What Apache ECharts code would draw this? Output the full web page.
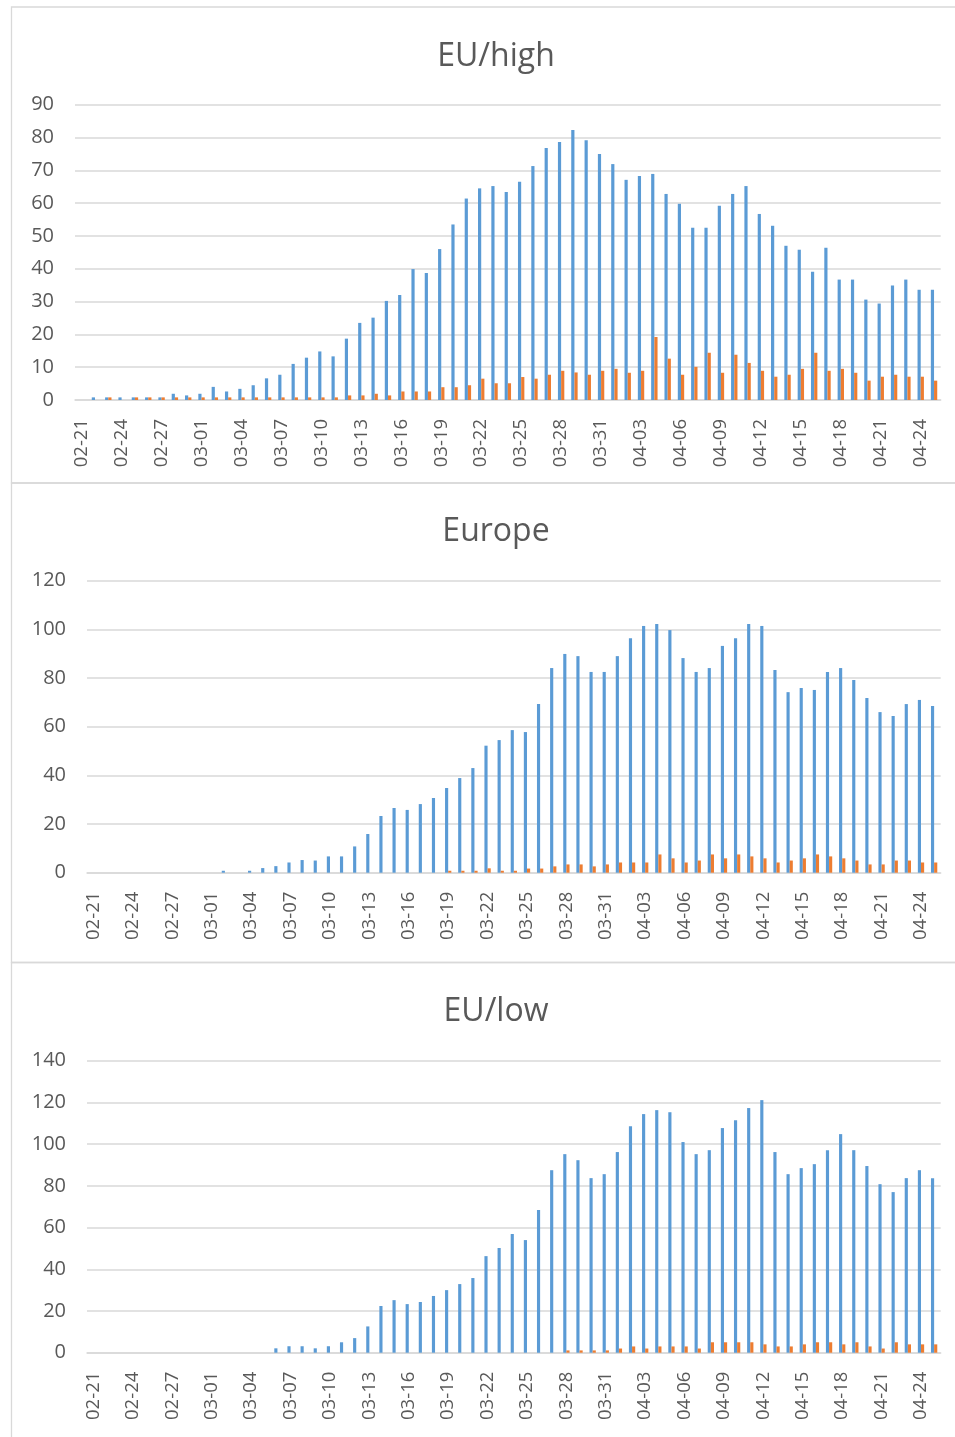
<!DOCTYPE html>
<html>
<head>
<meta charset="utf-8">
<script src="https://cdn.jsdelivr.net/npm/echarts@6/dist/echarts.min.js"></script>
<style>
html,body{margin:0;padding:0;background:#fff;}
#c{width:955px;height:1437px;}
</style>
</head>
<body>
<div id="c"></div>
<script>
const dates = ['02-21','02-22','02-23','02-24','02-25','02-26','02-27','02-28','02-29',
'03-01','03-02','03-03','03-04','03-05','03-06','03-07','03-08','03-09','03-10','03-11','03-12','03-13','03-14','03-15','03-16','03-17','03-18','03-19','03-20','03-21','03-22','03-23','03-24','03-25','03-26','03-27','03-28','03-29','03-30','03-31',
'04-01','04-02','04-03','04-04','04-05','04-06','04-07','04-08','04-09','04-10','04-11','04-12','04-13','04-14','04-15','04-16','04-17','04-18','04-19','04-20','04-21','04-22','04-23','04-24','04-25'];

const titles = ['EU/high', 'Europe', 'EU/low'];

const highBlue = [null,0.8,0.8,0.8,0.8,0.8,0.8,1.9,1.4,
1.9,4,2.6,3.4,4.5,6.6,7.7,11,12.9,14.8,13.3,18.7,23.5,25.1,30.2,32,39.9,38.7,46,53.5,61.4,64.5,65.2,63.4,66.5,71.3,76.8,78.6,82.3,79.2,75,
71.9,67.1,68.3,68.9,62.8,59.8,52.5,52.5,59.2,62.8,65.2,56.7,53.1,47,45.8,39.1,46.4,36.7,36.7,30.6,29.4,34.9,36.7,33.6,33.6];
const highOrange = [null,null,0.8,null,0.8,0.8,0.8,0.8,0.8,
0.8,0.8,0.8,0.8,0.8,0.8,0.8,0.8,0.8,0.8,0.8,1.4,1.4,1.9,1.4,2.6,2.6,2.6,3.9,3.9,4.5,6.5,5.1,5.1,7,6.5,7.7,8.9,8.4,7.7,8.9,
9.5,8.3,8.9,19.2,12.6,7.7,10.1,14.4,8.3,13.8,11.3,8.9,7.1,7.7,9.5,14.4,8.9,9.5,8.3,5.9,7.1,7.7,7.1,7.1,5.9];

const europeBlue = [null,null,null,null,null,null,null,null,null,
null,0.8,null,0.8,1.9,2.7,4.2,5.2,5,6.7,6.7,10.8,15.9,23.3,26.6,25.8,28.2,30.7,34.8,38.9,43,52.2,54.5,58.6,57.8,69.3,84.1,89.9,89,82.5,82.5,
89,96.4,101.4,102.2,99.7,88.2,82.5,84.1,93.2,96.4,102.2,101.4,83.3,74.2,75.9,75.1,82.5,84.1,79.2,71.8,66,64.4,69.3,71,68.5];
const europeOrange = [null,null,null,null,null,null,null,null,null,
null,null,null,null,null,null,null,null,null,null,null,null,null,null,null,null,null,null,0.8,0.8,0.8,1.8,0.8,0.8,1.7,1.7,2.6,3.4,3.4,2.6,3.4,
4.2,4.2,4.2,7.5,5.9,4.2,5,7.5,5.9,7.5,6.7,5.9,4.2,5,5.9,7.5,6.7,5.9,5,3.4,3.4,5,5,4.2,4.2];

const lowBlue = [null,null,null,null,null,null,null,null,null,
null,null,null,null,null,2.1,3.1,3.1,2.1,3.1,5,7,12.6,22.4,25.2,23.3,24.3,27.2,30,32.9,35.8,46.3,50.2,56.9,54,68.4,87.5,95.2,92.3,83.7,85.6,
96.2,108.6,114.4,116.3,115.3,101,95.2,97.1,107.7,111.5,117.3,121.1,96.2,85.6,88.5,90.4,97.1,104.8,97.1,89.5,80.8,77,83.7,87.5,83.7];
const lowOrange = [null,null,null,null,null,null,null,null,null,
null,null,null,null,null,null,null,null,null,null,null,null,null,null,null,null,null,null,null,null,null,null,null,null,null,null,null,1.1,1.1,1.1,1.1,
2,3,2,3,3,3,2,5,5,5,5,4,3,3,4,5,5,4,5,3,2,5,4,4,4];

const yMax = [90, 120, 140];
const yInterval = [10, 20, 20];

const blueSets = [highBlue, europeBlue, lowBlue];
const orangeSets = [highOrange, europeOrange, lowOrange];

const BLUE = '#5B9BD5', ORANGE = '#ED7D31', GRID = '#d9d9d9', TXT = '#595959';
const FONT = 'Open Sans';

const layout = [
  {panelTop: 7, left: 75, top: 104.7, height: 295.3, titleY: 52},
  {panelTop: 483, left: 87, top: 580.7, height: 292, titleY: 527},
  {panelTop: 962.5, left: 87, top: 1060.7, height: 292, titleY: 1007}
];

const option = {
  animation: false,
  backgroundColor: '#ffffff',
  textStyle: {fontFamily: FONT},
  title: [], grid: [], xAxis: [], yAxis: [], series: [],
  graphic: []
};

layout.forEach((L, k) => {
  option.graphic.push({
    type: 'rect', silent: true, z: -10,
    shape: {x: 11.5, y: L.panelTop, width: 1000, height: (k < 2 ? layout[k+1].panelTop - L.panelTop : 600)},
    style: {fill: 'none', stroke: GRID, lineWidth: 1.3}
  });
  option.title.push({
    text: titles[k], left: 491, top: L.titleY, textAlign: 'center', textVerticalAlign: 'middle',
    textStyle: {fontFamily: FONT, fontSize: 32, fontWeight: 'normal', color: TXT}
  });
  option.grid.push({left: L.left, right: 14.3, top: L.top, height: L.height});
  option.xAxis.push({
    type: 'category', gridIndex: k, data: dates,
    axisLine: {show: true, lineStyle: {color: GRID, width: 1.5}},
    axisTick: {show: false},
    axisLabel: {rotate: 90, interval: 2, fontSize: 18.5, color: TXT, fontFamily: FONT, margin: 19}
  });
  option.yAxis.push({
    type: 'value', gridIndex: k, min: 0, max: yMax[k], interval: yInterval[k],
    axisLine: {show: false}, axisTick: {show: false},
    axisLabel: {fontSize: 20, color: TXT, fontFamily: FONT, margin: 21},
    splitLine: {lineStyle: {color: GRID, width: 1.5}}
  });
  option.series.push({
    type: 'bar', xAxisIndex: k, yAxisIndex: k, data: blueSets[k],
    itemStyle: {color: BLUE}, barGap: '0%', barCategoryGap: '52%'
  });
  option.series.push({
    type: 'bar', xAxisIndex: k, yAxisIndex: k, data: orangeSets[k],
    itemStyle: {color: ORANGE}, barGap: '0%', barCategoryGap: '52%'
  });
});

const chart = echarts.init(document.getElementById('c'), null, {renderer: 'canvas'});
chart.setOption(option);
</script>
</body>
</html>
